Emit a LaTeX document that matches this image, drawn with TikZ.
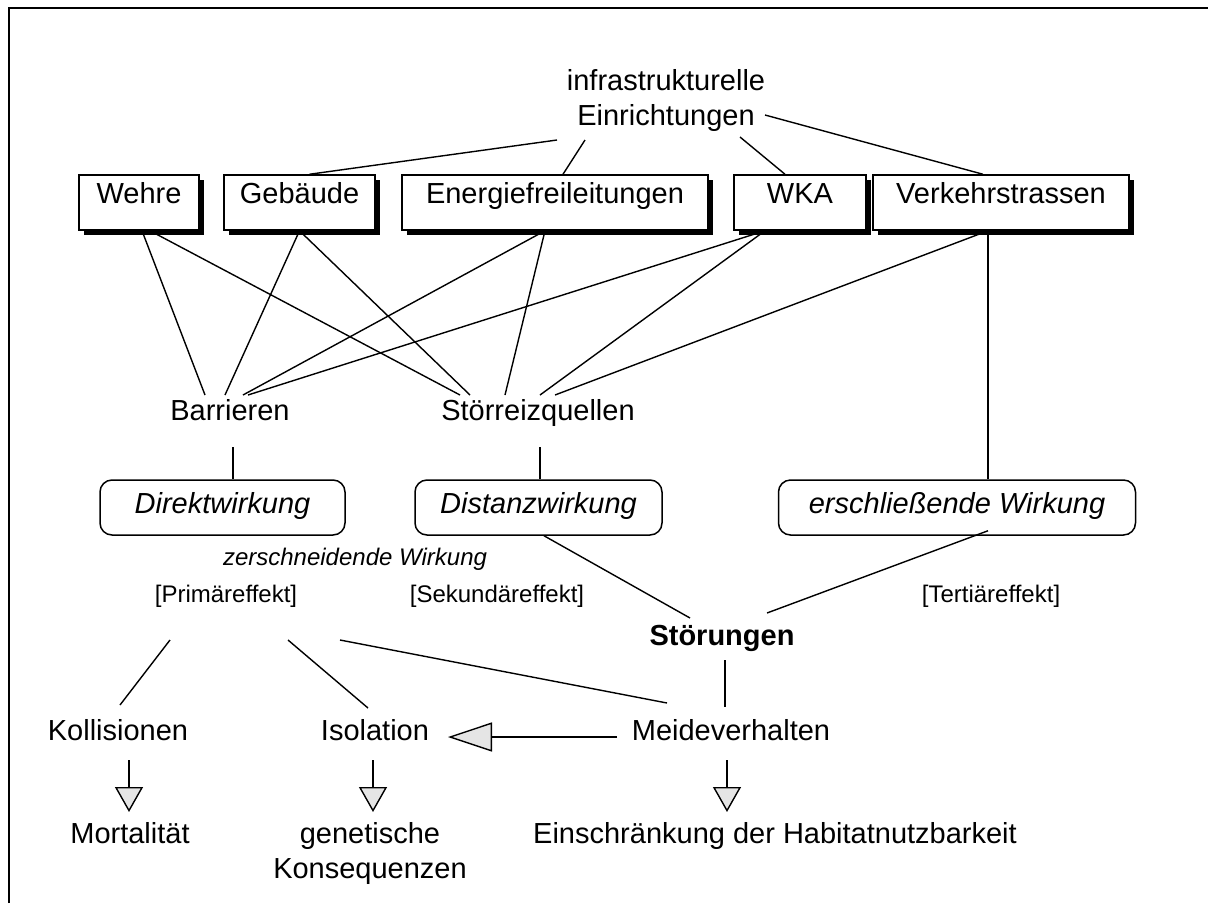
\documentclass[tikz,border=0pt]{standalone}
\usepackage{fontspec}
\setmainfont{Liberation Sans}
\usetikzlibrary{shadows,calc,arrows.meta}
\begin{document}
\begin{tikzpicture}[x=1pt,y=-1pt,
  lbl/.style={font=\fontsize{29}{35}\selectfont, inner sep=0pt, anchor=base},
  small/.style={font=\fontsize{24}{28}\selectfont, inner sep=0pt, anchor=base},
  sbox/.style={draw, line width=1.5pt, fill=white, inner sep=0pt,
    text height=28.4pt, text depth=26.6pt, font=\fontsize{29}{35}\selectfont,
    drop shadow={shadow xshift=5pt, shadow yshift=-5pt, fill=black, opacity=1}},
  rbox/.style={draw, line width=1.5pt, rounded corners=12pt, inner sep=0pt,
    text height=33.4pt, text depth=21.6pt, font=\fontsize{29}{35}\selectfont\itshape},
  con/.style={line width=1.4pt},
  arr/.style={line width=1.4pt, -{Triangle[length=25pt,width=28pt,fill=black!10]}},
  harr/.style={line width=1.4pt, -{Triangle[length=44pt,width=29pt,fill=black!10]}}
]
\useasboundingbox (0,0) rectangle (1208,903);
\fill[white] (0,0) rectangle (1208,903);
\draw[line width=2pt] (9,903) -- (9,8) -- (1208,8);

% top
\node[lbl, anchor=center, align=center] (infra) at (666,100) {infrastrukturelle\\Einrichtungen};

% boxes
\node[sbox, minimum width=120pt] (wehre) at (139,202.5) {Wehre};
\node[sbox, minimum width=151pt] (geb) at (299.5,202.5) {Gebäude};
\node[sbox, minimum width=306pt] (energie) at (555,202.5) {Energiefreileitungen};
\node[sbox, minimum width=132pt] (wka) at (800,202.5) {WKA};
\node[sbox, minimum width=256pt] (verk) at (1001,202.5) {Verkehrstrassen};

% middle labels
\node[lbl] (barr) at (230,420) {Barrieren};
\node[lbl] (stoer) at (538,420) {Störreizquellen};

% rounded boxes
\node[rbox, minimum width=245pt] (direkt) at (222.5,507.5) {Direktwirkung};
\node[rbox, minimum width=247pt] (distanz) at (538.5,507.5) {Distanzwirkung};
\node[rbox, minimum width=357pt] (erschl) at (957,507.5) {erschließende Wirkung};

\node[small, font=\fontsize{24}{28}\selectfont\itshape] (zersch) at (355,565) {zerschneidende Wirkung};
\node[small] (prim) at (226,602) {[Primäreffekt]};
\node[small] (sek) at (497,602) {[Sekundäreffekt]};
\node[small] (tert) at (991,602) {[Tertiäreffekt]};
\node[lbl, font=\fontsize{29}{35}\selectfont\bfseries] (stoerung) at (722,645) {Störungen};

\node[lbl] (koll) at (118,740) {Kollisionen};
\node[lbl] (iso) at (375,740) {Isolation};
\node[lbl] (meide) at (731,740) {Meideverhalten};

\node[lbl] (mort) at (130,843) {Mortalität};
\node[lbl, anchor=north, align=center] (genet) at (370,822) {genetische\\Konsequenzen};
\node[lbl] (einschr) at (775,843) {Einschränkung der Habitatnutzbarkeit};

% connectors top
\draw[con] ($(infra)+(-109,40)$) -- ($(geb.north)+(10,0)$);
\draw[con] ($(infra)+(-81,40)$) -- ($(energie.north)+(8,0)$);
\draw[con] ($(infra)+(74,37)$) -- ($(wka.north)+(-15,0)$);
\draw[con] ($(infra)+(99,15)$) -- ($(verk.north)+(-18,0)$);

% boxes to Barrieren / Stoerreizquellen
\draw[con] ($(wehre.south)+(3,0)$) -- ($(barr.base)+(-25,-25)$);
\draw[con] ($(wehre.south)+(11,0)$) -- ($(stoer.base)+(-78,-25)$);
\draw[con] (geb.south) -- ($(barr.base)+(-5,-25)$);
\draw[con] (geb.south) -- ($(stoer.base)+(-68,-25)$);
\draw[con] ($(energie.south)+(-10,0)$) -- ($(barr.base)+(13,-25)$);
\draw[con] ($(energie.south)+(-10,0)$) -- ($(stoer.base)+(-33,-25)$);
\draw[con] ($(wka.south)+(-35,0)$) -- ($(barr.base)+(18,-25)$);
\draw[con] ($(wka.south)+(-35,0)$) -- ($(stoer.base)+(2,-25)$);
\draw[con] ($(verk.south)+(-13,0)$) -- ($(stoer.base)+(17,-25)$);
\draw[con] ($(verk.south)+(-13,0)$) -- ($(erschl.north)+(31,0)$);

\draw[con] ($(barr.base)+(3,27)$) -- ($(direkt.north)+(10.5,0)$);
\draw[con] ($(stoer.base)+(2,27)$) -- ($(distanz.north)+(1.5,0)$);

\draw[con] ($(distanz.south)+(5.5,0)$) -- ($(stoerung.base)+(-32,-27)$);
\draw[con] ($(erschl.south)+(31,-5)$) -- ($(stoerung.base)+(45,-32)$);
\draw[con] ($(stoerung.base)+(3,15)$) -- ($(meide.base)+(-6,-33)$);

\draw[con] ($(prim.base)+(-56,38)$) -- ($(koll.base)+(2,-35)$);
\draw[con] ($(prim.base)+(62,38)$) -- ($(iso.base)+(-7,-32)$);
\draw[con] ($(prim.base)+(114,38)$) -- ($(meide.base)+(-64,-37)$);

\draw[harr] ($(meide.base)+(-114,-3)$) -- ($(iso.base)+(73,-3)$);
\draw[arr] ($(koll.base)+(11,20)$) -- ($(mort.base)+(-1,-31)$);
\draw[arr] ($(iso.base)+(-2,20)$) -- ($(genet.north)+(3,-10)$);
\draw[arr] ($(meide.base)+(-4,20)$) -- ($(einschr.base)+(-48,-31)$);
\end{tikzpicture}
\end{document}
